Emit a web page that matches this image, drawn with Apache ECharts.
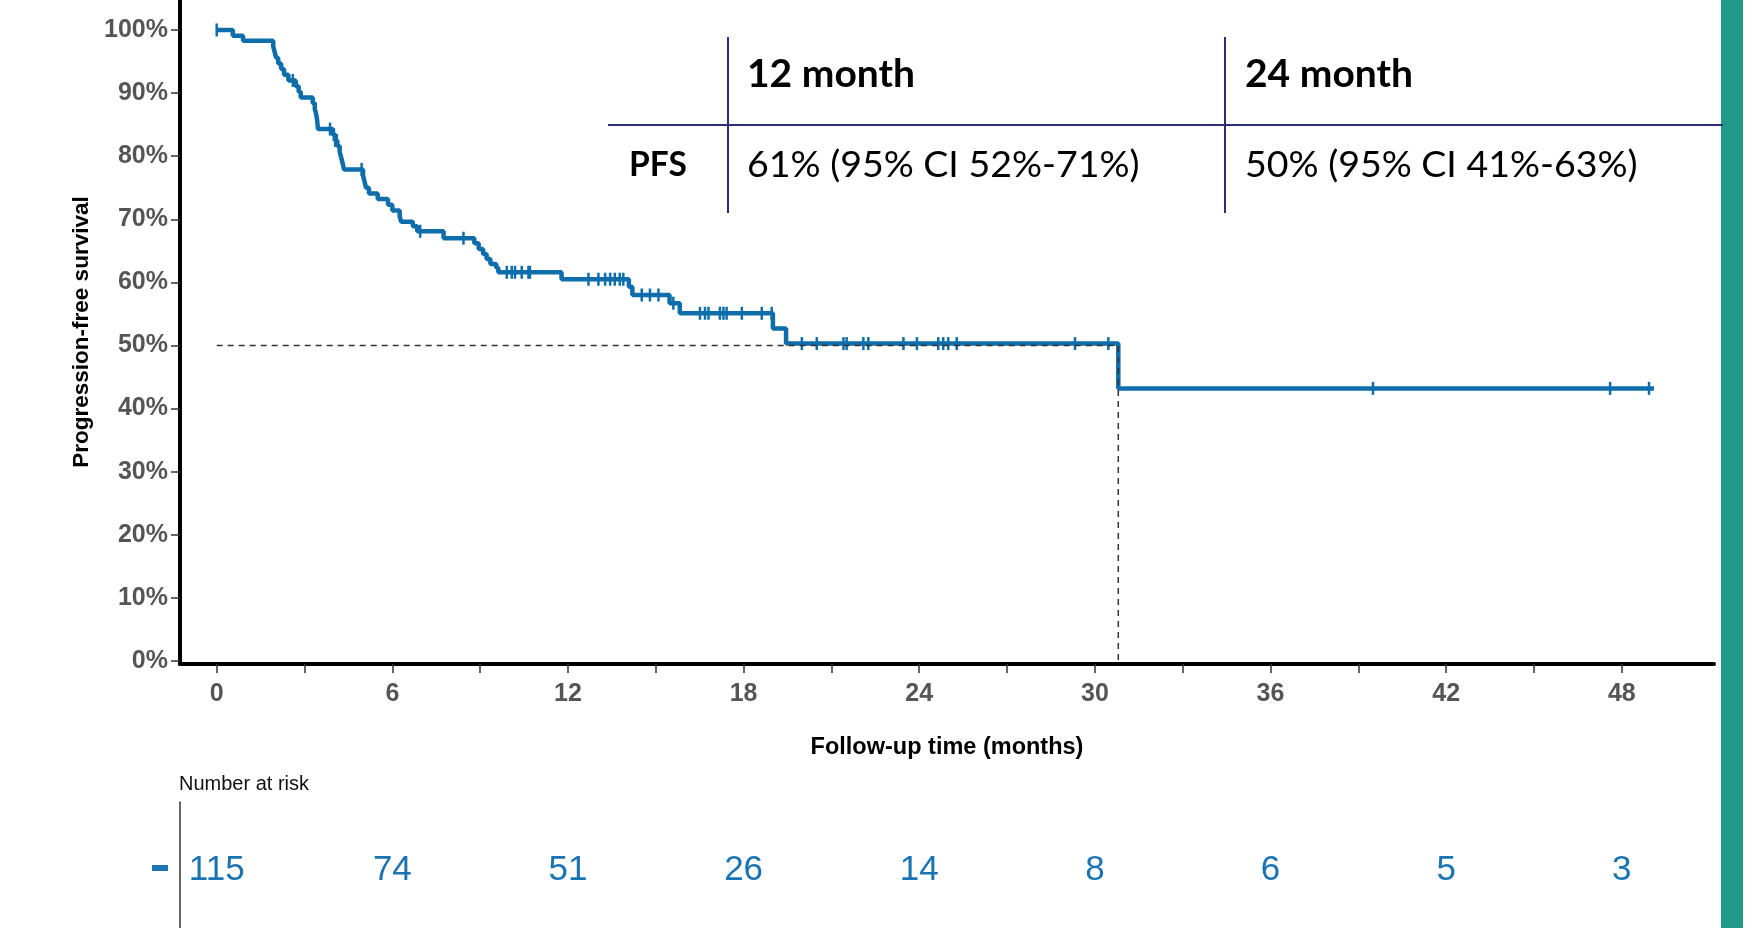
<!DOCTYPE html>
<html>
<head>
<meta charset="utf-8">
<script src="https://cdn.jsdelivr.net/npm/echarts@6/dist/echarts.min.js"></script>
<style>
html,body{margin:0;padding:0;background:#fff;}
#chart{width:1753px;height:928px;}
</style>
</head>
<body>
<div id="chart"></div>
<script>
// ---------------- data ----------------
// Kaplan-Meier step points: time (months) and survival (%) after each drop
const kmTimes = [0, 0.55, 0.9, 1.93, 1.98, 2.03, 2.1, 2.2, 2.3, 2.45, 2.7, 2.8, 2.87, 3.28, 3.35, 3.4, 3.43, 3.46,
  3.97, 4.05, 4.12, 4.2, 4.25, 4.3, 4.35, 5.0, 5.05, 5.1, 5.2, 5.5, 5.85, 6.0, 6.25, 6.3, 6.7, 6.85, 7.75,
  8.8, 8.95, 9.1, 9.22, 9.35, 9.55, 9.62, 11.78, 14.08, 14.2, 15.47, 15.82, 19.0, 19.45, 30.8, 49.1];
const kmSurv = [100, 99.1, 98.3, 97.4, 96.5, 95.6, 94.7, 93.8, 92.9, 92.0, 91.1, 90.2, 89.3, 88.4, 87.5, 86.6, 85.7, 84.3,
  83.4, 82.5, 81.6, 80.7, 79.8, 78.9, 77.9, 76.9, 76.0, 75.0, 74.1, 73.2, 72.3, 71.4, 70.5, 69.6, 68.9, 68.1, 67.0,
  66.2, 65.3, 64.5, 63.7, 62.9, 62.3, 61.6, 60.5, 59.3, 58.0, 56.7, 55.1, 52.7, 50.3, 43.2, 43.2];
// censoring times (months)
const censorTimes = [0, 2.6, 3.38, 3.87, 4.0, 4.05, 4.1, 4.95, 6.95, 8.43,
  9.91, 10.08, 10.19, 10.42, 10.65, 10.7,
  12.7, 13.04, 13.27, 13.44, 13.6, 13.77, 13.89,
  14.52, 14.8, 15.09, 15.6,
  16.51, 16.68, 16.8, 17.19, 17.31, 17.42, 17.94, 18.62, 18.96,
  19.99, 20.5, 21.41, 21.52, 22.09, 22.26, 23.46, 23.92, 24.65, 24.82, 24.99, 25.28, 29.32, 30.46,
  39.5, 47.6, 48.93];
const medianTime = 30.8;
const medianSurv = 50;
// axis ticks
const xTickMonths = [0, 3, 6, 9, 12, 15, 18, 21, 24, 27, 30, 33, 36, 39, 42, 45, 48];
const xLabelMonths = [0, 6, 12, 18, 24, 30, 36, 42, 48];
const yTickValues = [0, 10, 20, 30, 40, 50, 60, 70, 80, 90, 100];
// number at risk
const riskTimes = [0, 6, 12, 18, 24, 30, 36, 42, 48];
const riskNumbers = [115, 74, 51, 26, 14, 8, 6, 5, 3];
// inset table text
const tableHeader = ['12 month', '24 month'];
const tableRowLabel = 'PFS';
const tableRow = ['61% (95% CI 52%-71%)', '50% (95% CI 41%-63%)'];
const xTitle = 'Follow-up time (months)';
const yTitle = 'Progression-free survival';
const riskTitle = 'Number at risk';

// ---------------- helpers ----------------
function survAt(t) {
  let s = kmSurv[0];
  for (let i = 0; i < kmTimes.length; i++) { if (kmTimes[i] <= t) s = kmSurv[i]; else break; }
  return s;
}
const kmData = kmTimes.map((t, i) => [t, kmSurv[i]]);
const censorData = censorTimes.map(t => [t, survAt(t)]);
const medianData = [[0, medianSurv], [medianTime, medianSurv], [medianTime, 0]];
const riskData = riskTimes.map((t, i) => [t, 0, riskNumbers[i]]);

const BLUE = '#0e6dab';
const RISKBLUE = '#1a74b3';
const NAVY = '#2c2c78';
const XMIN = -1.254, XMAX = 51.15;
const LBL = '"Liberation Sans", Arial, sans-serif';
const CAL = 'Lato, "Open Sans", sans-serif';

const chart = echarts.init(document.getElementById('chart'), null, {renderer: 'canvas'});
chart.setOption({
  animation: false,
  backgroundColor: '#ffffff',
  grid: [
    {left: 180, right: 39, top: 0, bottom: 264, containLabel: false},
    {left: 180, right: 39, top: 802, bottom: 0, containLabel: false}
  ],
  xAxis: [{
    type: 'value', gridIndex: 0, min: XMIN, max: XMAX,
    name: xTitle, nameLocation: 'middle', nameGap: 72,
    nameTextStyle: {fontFamily: LBL, fontWeight: 'bold', fontSize: 23.5, color: '#000'},
    axisLine: {show: true, onZero: false, lineStyle: {color: '#000', width: 4}},
    axisTick: {show: true, length: 9, customValues: xTickMonths, lineStyle: {color: '#333', width: 1.5}},
    axisLabel: {show: true, customValues: xLabelMonths, margin: 18, fontFamily: LBL, fontWeight: 'bold', fontSize: 25, color: '#555'},
    splitLine: {show: false}
  }, {
    type: 'value', gridIndex: 1, min: XMIN, max: XMAX, show: false
  }],
  yAxis: [{
    type: 'value', gridIndex: 0, min: -0.48, max: 104.75,
    name: yTitle, nameLocation: 'middle', nameGap: 83, nameRotate: 90,
    nameTextStyle: {fontFamily: LBL, fontWeight: 'bold', fontSize: 22.5, color: '#000'},
    axisLine: {show: true, onZero: false, lineStyle: {color: '#000', width: 4}},
    axisTick: {show: true, length: 9, customValues: yTickValues, lineStyle: {color: '#333', width: 1.5}},
    axisLabel: {show: true, customValues: yTickValues, margin: 12, formatter: v => v + '%',
      fontFamily: LBL, fontWeight: 'bold', fontSize: 25, color: '#555'},
    splitLine: {show: false}
  }, {
    type: 'category', gridIndex: 1, data: ['PFS'],
    axisLine: {show: true, onZero: false, lineStyle: {color: '#333', width: 1.5}},
    axisTick: {show: false},
    axisLabel: {show: false},
    splitLine: {show: false}
  }],
  series: [{
    type: 'line', name: 'PFS', xAxisIndex: 0, yAxisIndex: 0, step: 'end',
    data: kmData, showSymbol: false, symbol: 'none',
    lineStyle: {color: BLUE, width: 4.5}, z: 3
  }, {
    type: 'scatter', name: 'censored', xAxisIndex: 0, yAxisIndex: 0,
    data: censorData, symbol: 'rect', symbolSize: [2.5, 13],
    itemStyle: {color: BLUE, opacity: 1}, z: 4
  }, {
    type: 'line', name: 'median', xAxisIndex: 0, yAxisIndex: 0,
    data: medianData, showSymbol: false, symbol: 'none',
    lineStyle: {color: '#333', width: 1.5, type: [6, 5]}, z: 5
  }, {
    type: 'scatter', name: 'risk', xAxisIndex: 1, yAxisIndex: 1,
    data: riskData, symbolSize: 1, itemStyle: {color: 'rgba(0,0,0,0)', opacity: 1},
    label: {show: true, position: 'inside', offset: [0, 5], formatter: p => String(p.value[2]),
      fontFamily: LBL, fontSize: 35, color: RISKBLUE}
  }],
  graphic: [
    {type: 'rect', shape: {x: 1721, y: 0, width: 22, height: 928}, style: {fill: '#1f9a8a'}, silent: true},
    {type: 'rect', shape: {x: 152, y: 865, width: 16, height: 6}, style: {fill: RISKBLUE}, silent: true},
    {type: 'text', x: 179, y: 784, style: {text: riskTitle, font: '20px "Liberation Sans", Arial', fill: '#111', verticalAlign: 'middle'}},
    // inset table
    {type: 'line', shape: {x1: 608, y1: 125, x2: 1723, y2: 125}, style: {stroke: NAVY, lineWidth: 2}},
    {type: 'line', shape: {x1: 728, y1: 37, x2: 728, y2: 213}, style: {stroke: NAVY, lineWidth: 2}},
    {type: 'line', shape: {x1: 1225, y1: 37, x2: 1225, y2: 213}, style: {stroke: NAVY, lineWidth: 2}},
    {type: 'text', x: 747, y: 74, style: {text: tableHeader[0], font: 'bold 39px ' + CAL, fill: '#000', verticalAlign: 'middle'}},
    {type: 'text', x: 1245, y: 74, style: {text: tableHeader[1], font: 'bold 39px ' + CAL, fill: '#000', verticalAlign: 'middle'}},
    {type: 'text', x: 629, y: 165, style: {text: tableRowLabel, font: 'bold 33.5px ' + CAL, fill: '#000', verticalAlign: 'middle'}},
    {type: 'text', x: 747, y: 165, style: {text: tableRow[0], font: '37.5px ' + CAL, fill: '#000', verticalAlign: 'middle'}},
    {type: 'text', x: 1245, y: 165, style: {text: tableRow[1], font: '37.5px ' + CAL, fill: '#000', verticalAlign: 'middle'}}
  ]
});
</script>
</body>
</html>
